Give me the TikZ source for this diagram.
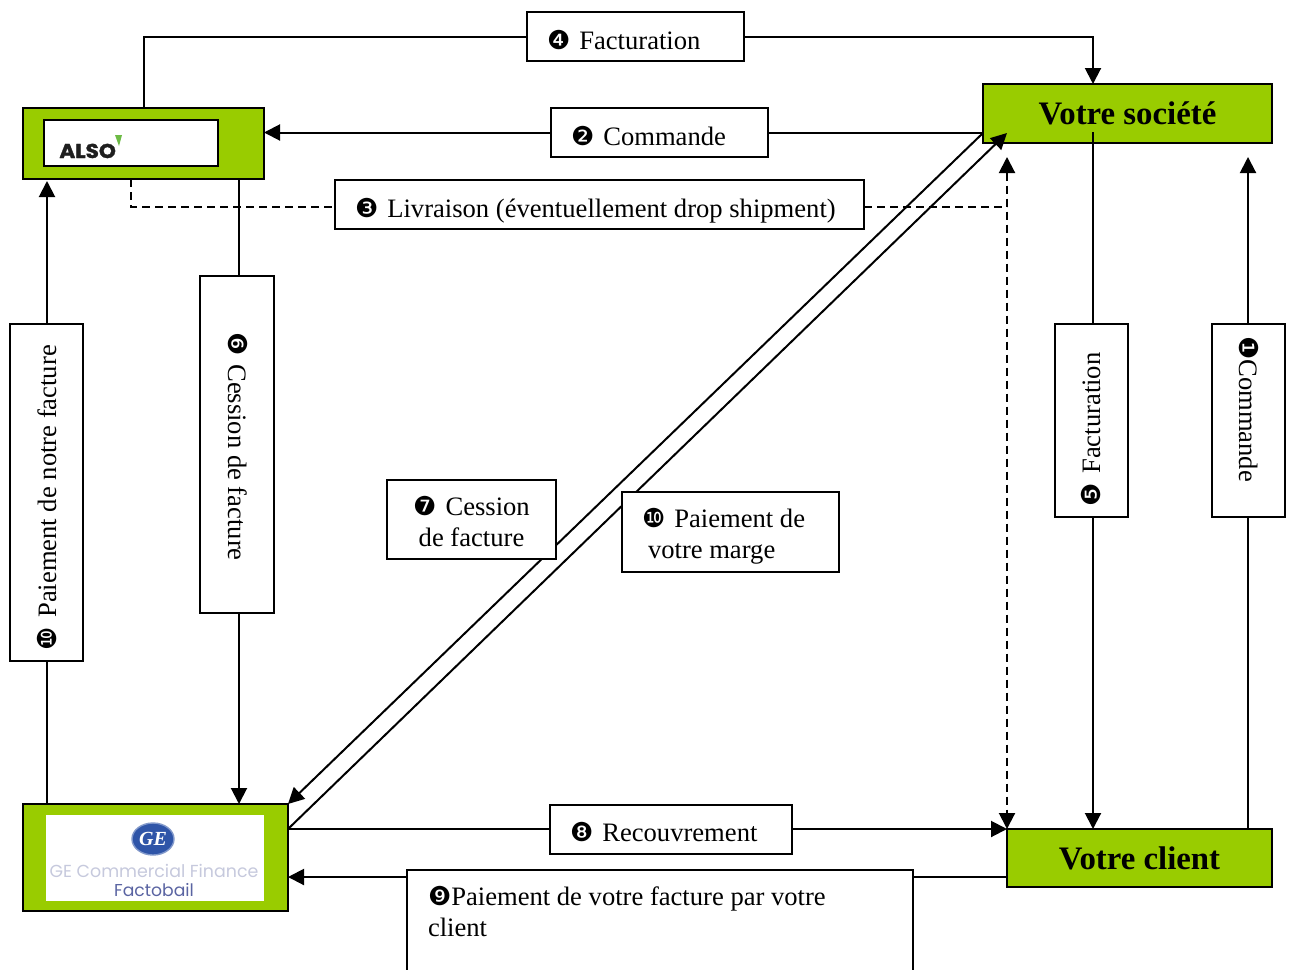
\documentclass[tikz,border=0pt]{standalone}
\usepackage{fontspec}
\setmainfont{Liberation Serif}
\newfontfamily\numfont{DejaVu Sans}
\newfontfamily\logofont{Poppins}
\newfontfamily\alsofont[BoldFeatures={FakeBold=1.6,FakeStretch=1.08}]{Poppins}
\usetikzlibrary{arrows.meta,shapes.geometric}
\definecolor{boxgreen}{HTML}{99CC00}
\definecolor{geblue}{HTML}{2F55A8}
\definecolor{gegrey}{HTML}{C6C9DD}
\definecolor{gedark}{HTML}{5A64A2}
\definecolor{alsogreen}{HTML}{6DBB45}
\newcommand{\cnum}[1]{{\numfont\fontsize{13}{13}\selectfont #1}}
\newcommand{\gp}{\hspace{4.5pt}}
\tikzset{
 x=0.5pt,y=-0.5pt,
 wire/.style={line width=1pt,draw=black},
 arr/.style={wire,-{Triangle[length=8pt,width=8pt]}},
 dashwire/.style={wire,dash pattern=on 4pt off 2.5pt},
 lbl/.style={draw=black,line width=1pt,fill=white,inner ysep=0pt,outer sep=0pt,align=flush left,
   font=\fontsize{13.3}{15.5}\selectfont},
 hbox/.style={lbl,text height=18.5pt,text depth=6pt},
 vbox/.style={lbl,text height=23pt,text depth=13.5pt},
 tall/.style={lbl,text height=17.5pt},
 greenbox/.style={draw=black,line width=1pt,fill=boxgreen,inner sep=0pt,outer sep=0pt},
 title/.style={font=\bfseries\fontsize{16.4}{18}\selectfont},
 logotxt/.style={inner sep=0pt},
}
\begin{document}
\begin{tikzpicture}
\useasboundingbox (0,0) rectangle (1290,969);
% coloured boxes
\node[greenbox,minimum width=120.5pt,minimum height=35.5pt] (also) at (143.5,143.5) {};
\node[greenbox,title,minimum width=144.5pt,minimum height=29.5pt] (soc) at (1127.5,113.5) {Votre société};
\node[greenbox,minimum width=132.5pt,minimum height=53.5pt] (ge) at (155.5,857.5) {};
\node[greenbox,title,minimum width=132.5pt,minimum height=29pt] (cli) at (1139.5,858) {Votre client};
% logos
\node[draw=black,line width=1pt,fill=white,inner sep=0pt,outer sep=0pt,minimum width=87pt,minimum height=23pt] (alsoin) at (131,143) {};
\node[logotxt,font=\alsofont\bfseries\fontsize{10}{10}\selectfont,text=black!88,anchor=base west] (alsotxt) at (59,158) {ALSO};
\fill[alsogreen] (115,135) -- (122,135) -- (119,146) -- cycle;
\node[fill=white,inner sep=0pt,outer sep=0pt,minimum width=109pt,minimum height=43pt] (gein) at (155,858) {};
\node[ellipse,draw=geblue!60!white,line width=0.7pt,fill=geblue,inner sep=0pt,minimum width=21pt,minimum height=16pt,text=white,font=\bfseries\itshape\fontsize{10}{10}\selectfont] (gelogo) at (153,839) {GE};
\node[logotxt,font=\logofont\fontsize{8.7}{10}\selectfont,text=gegrey] (getxt) at (154,871) {GE Commercial Finance};
\node[logotxt,font=\logofont\fontsize{8.6}{10}\selectfont,text=gedark] (gefac) at (154,890) {Factobail};
% diagonals, which pass behind the labels
\coordinate (tipseven) at (1007,133);
\coordinate (gegtop) at (288,804);
\coordinate (socdiag) at (983,133);
\coordinate (gemid) at (288,829);
\draw[arr] (socdiag) -- (gegtop);
\draw[arr] (gemid) -- (tipseven);
% labels
\node[hbox,text width=88.5pt,inner xsep=10pt] (l4) at (635.5,36.5) {\mbox{\cnum{❹}\gp Facturation}};
\node[hbox,text width=88.5pt,inner xsep=10pt] (l2) at (659.5,132.5) {\mbox{\cnum{❷}\gp Commande}};
\node[hbox,text width=244.5pt,inner xsep=10pt] (l3) at (599.5,204.5) {\mbox{\cnum{❸}\gp Livraison (éventuellement drop shipment)}};
\node[hbox,text width=101pt,inner xsep=10pt] (l8) at (671,829) {\mbox{\cnum{❽}\gp Recouvrement}};
\node[vbox,text width=157.5pt,inner xsep=5.5pt,rotate=90] (l10a) at (46.5,492.5) {\mbox{\cnum{❿}\gp Paiement de notre facture}};
\node[vbox,text depth=14pt,text width=112.5pt,inner xsep=28pt,rotate=-90] (l6) at (237,444.5) {\mbox{\cnum{❻}\gp Cession de facture}};
\node[vbox,text height=22.5pt,text depth=14pt,text width=85.5pt,inner xsep=5.5pt,rotate=90] (l5) at (1091.5,420.5) {\mbox{\cnum{❺}\gp Facturation}};
\node[vbox,text width=84.5pt,inner xsep=6pt,rotate=-90] (l1) at (1248.5,420.5) {\mbox{\cnum{❶}Commande}};
\node[tall,text depth=22pt,text width=84.5pt,inner xsep=0pt,align=flush center] (l7) at (471.5,519.5) {\cnum{❼}\gp Cession\\de facture};
\node[tall,text depth=22.5pt,text width=88.5pt,inner xsep=10pt] (l10b) at (730.5,532) {\cnum{❿}\gp Paiement de\\\hspace*{3pt}votre marge};
\begin{scope}
\clip (0,0) rectangle (1290,969);
\node[tall,text depth=42.5pt,text width=232pt,inner xsep=10.5pt,anchor=north west] (l9) at (407,870) {\cnum{❾}Paiement de votre facture par votre\\client};
\end{scope}
% helper positions
\coordinate (xsoc) at (1093,0);
\coordinate (xcliup) at (1248,0);
\coordinate (xleft) at (47,0);
\coordinate (xces) at (239,0);
\coordinate (xdash) at (131,0);
\coordinate (xdv) at (1007,0);
\coordinate (ydash) at (0,207);
\coordinate (ysocin) at (0,132);
\coordinate (ytip) at (0,157);
\coordinate (ytipl) at (0,181);
\coordinate (y9) at (0,877);
% connectors
\draw[wire] (also.north) |- (l4.west);
\draw[arr] (l4.east) -| (soc.north -| xsoc);
\draw[wire] (soc.west |- l2.east) -- (l2.east);
\draw[arr] (l2.west) -- (also.east |- l2.west);
\draw[dashwire] (also.south -| xdash) -- (xdash |- ydash) -- (l3.west |- ydash);
\draw[dashwire] (l3.east |- ydash) -- (xdv |- ydash);
\draw[dashwire,{Triangle[length=8pt,width=8pt]}-{Triangle[length=8pt,width=8pt]}] (xdv |- ytip) -- (cli.north west);
\draw[wire] (also.south -| xces) -- (l6.west -| xces);
\draw[arr] (l6.east -| xces) -- (ge.north -| xces);
\draw[wire] (ge.north -| xleft) -- (l10a.west -| xleft);
\draw[arr] (l10a.east -| xleft) -- (xleft |- ytipl);
\draw[wire] (xsoc |- ysocin) -- (l5.east -| xsoc);
\draw[arr] (l5.west -| xsoc) -- (cli.north -| xsoc);
\draw[wire] (cli.north -| xcliup) -- (l1.east -| xcliup);
\draw[arr] (l1.west -| xcliup) -- (xcliup |- ytip);
\draw[wire] (gemid) -- (l8.west |- gemid);
\draw[arr] (l8.east |- gemid) -- (cli.north west);
\draw[wire] (cli.west |- y9) -- (l9.north east |- y9);
\draw[arr] (l9.north west |- y9) -- (ge.east |- y9);
\end{tikzpicture}
\end{document}
